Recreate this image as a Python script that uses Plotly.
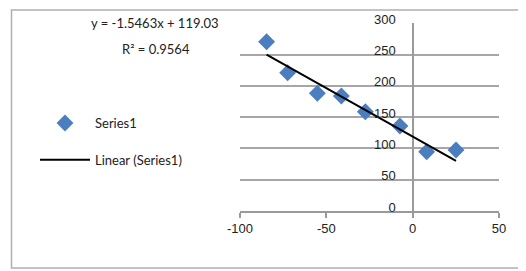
import plotly.graph_objects as go

# Data
x_vals = [-84.6, -72.4, -55.2, -41.3, -27.4, -7.4, 8.1, 25.1]
y_vals = [270.6, 221.0, 188.0, 183.8, 158.7, 135.8, 94.8, 97.5]
slope = -1.5463
intercept = 119.03
r_squared = 0.9564
series_name = "Series1"
trend_name = "Linear (Series1)"
x_ticks = [-100, -50, 0, 50]
x_tick_labels = ["-100", "-50", "0", "50"]
y_ticks = [0, 50, 100, 150, 200, 250, 300]

# page body has an 8px margin: shrink the figure and shift coordinates
OFF = 8
W, H = 526 - OFF, 271 - OFF

def px(v):
    return (v - OFF) / W

def py(v):
    return 1 - (v - OFF) / H

x_range = [-100, 50]
y_range = [0, 301]
x_left_px, x_right_px = 240, 499
y_bottom_px = 211
px_per_y = (211 - 23.3) / 300
y_top_px = y_bottom_px - px_per_y * y_range[1]

x_dom = [px(x_left_px), px(x_right_px)]
y_axis_pos = x_dom[0] + (x_dom[1] - x_dom[0]) * (0 - x_range[0]) / (x_range[1] - x_range[0])

trend_x = [min(x_vals), max(x_vals)]
trend_y = [slope * t + intercept for t in trend_x]

fig = go.Figure()
fig.add_trace(go.Scatter(
    x=x_vals, y=y_vals, mode="markers", name=series_name,
    marker=dict(symbol="diamond", size=13, color="#4A7EBF",
                line=dict(color="#4A7EBF", width=0)),
    legendgroup="a",
))
fig.add_trace(go.Scatter(
    x=trend_x, y=trend_y, mode="lines", name=trend_name,
    line=dict(color="#000000", width=2),
    legendgroup="b",
))

fig.update_layout(
    width=W, height=H,
    margin=dict(l=0, r=0, t=0, b=0),
    paper_bgcolor="white", plot_bgcolor="white",
    font=dict(family="Liberation Sans, Arial", size=13, color="#333333"),
    xaxis=dict(
        domain=x_dom, range=x_range,
        tickvals=x_ticks, ticktext=x_tick_labels,
        ticks="outside", ticklen=5, tickcolor="#9a9a9a",
        tickwidth=1.5,
        showline=True, linecolor="#9a9a9a", linewidth=1.5,
        showgrid=False, zeroline=True, zerolinecolor="#9a9a9a", zerolinewidth=1.5,
        automargin=False,
        tickfont=dict(family="Liberation Sans, Arial", size=13, color="#222222"),
    ),
    yaxis=dict(
        domain=[py(y_bottom_px), py(y_top_px)], range=y_range,
        tickvals=y_ticks, ticks="",
        anchor="free", position=y_axis_pos,
        showline=False, showgrid=True, gridcolor="#a6a6a6", gridwidth=1.5,
        zeroline=False, automargin=False,
        ticklabelstandoff=17, ticklabelshift=-4,
        tickfont=dict(family="Liberation Sans, Arial", size=13, color="#222222"),
    ),
    showlegend=True,
    legend=dict(
        x=px(35), y=py(108), xanchor="left", yanchor="top",
        itemwidth=50, tracegroupgap=17, traceorder="grouped",
        font=dict(family="Lato, Open Sans", size=13, color="#222222"),
        bgcolor="rgba(0,0,0,0)",
    ),
    annotations=[
        dict(text=f"y = {slope}x + {intercept}", x=px(155), y=py(23),
             xref="paper", yref="paper", showarrow=False,
             xanchor="center", yanchor="middle",
             font=dict(family="Lato, Open Sans", size=13, color="#222222")),
        dict(text=f"R² = {r_squared}", x=px(156), y=py(49),
             xref="paper", yref="paper", showarrow=False,
             xanchor="center", yanchor="middle",
             font=dict(family="Lato, Open Sans", size=13, color="#222222")),
    ],
    shapes=[
        dict(type="rect", xref="paper", yref="paper",
             x0=px(11.5), x1=px(523), y0=py(268), y1=py(10),
             line=dict(color="#b0b0b0", width=1.5), fillcolor="rgba(0,0,0,0)",
             layer="below"),
    ],
)

fig.write_html("out.html")
